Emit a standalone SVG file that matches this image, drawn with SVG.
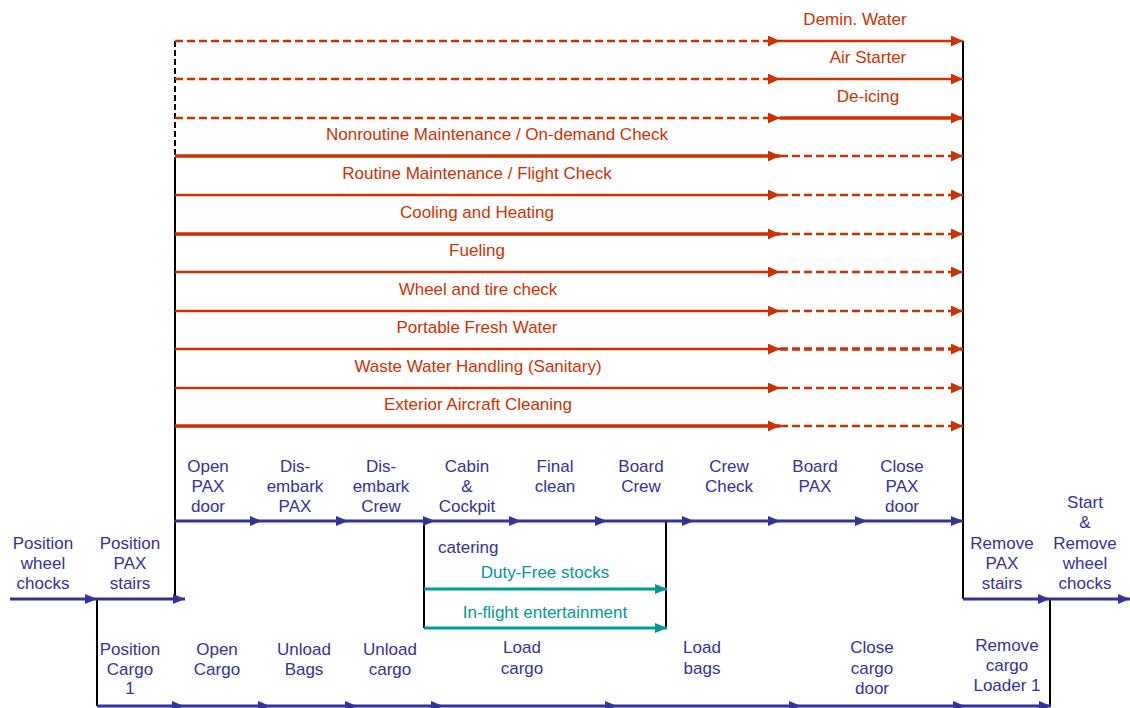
<svg xmlns="http://www.w3.org/2000/svg" width="1130" height="708" viewBox="0 0 1130 708">
<defs>
<style>
text{font-family:"Liberation Sans",Arial,sans-serif;font-size:17px;text-anchor:middle}
.o{fill:#CC3300}
.b{fill:#333399}
.t{fill:#009999}
.lo{stroke:#CC3300;stroke-width:2.6;fill:none}
.lo.th{stroke-width:3.6}
.dash{stroke-dasharray:8 4}
.lb{stroke:#333399;stroke-width:3;fill:none}
.lt{stroke:#009999;stroke-width:3;fill:none}
.bk{stroke:#000;stroke-width:2;fill:none}
.mo{marker-end:url(#ao)}
.mb{marker-end:url(#ab)}
.mt{marker-end:url(#at)}
</style>
<marker id="ao" markerUnits="userSpaceOnUse" markerWidth="12" markerHeight="11" refX="12" refY="5.5" orient="auto"><path d="M0,0 L12,5.5 L0,11 z" fill="#CC3300"/></marker>
<marker id="ab" markerUnits="userSpaceOnUse" markerWidth="12" markerHeight="10" refX="12" refY="5" orient="auto"><path d="M0,0 L12,5 L0,10 z" fill="#333399"/></marker>
<marker id="at" markerUnits="userSpaceOnUse" markerWidth="12" markerHeight="10" refX="12" refY="5" orient="auto"><path d="M0,0 L12,5 L0,10 z" fill="#009999"/></marker>
</defs>
<rect width="1130" height="708" fill="#fff"/>

<g id="connectors">
<!-- black frame lines -->
<path class="bk" d="M175,41 V157" stroke-dasharray="6 3"/>
<path class="bk" d="M175,157 V599"/>
<path class="bk" d="M963,41 V599"/>
<path class="bk" d="M97,599 V706" stroke-width="1.6"/>
<path class="bk" d="M1050,599 V706" stroke-width="1.6"/>
<path class="bk" d="M424,521 V628" stroke-width="1.6"/>
<path class="bk" d="M666,521 V628"/>

<!-- orange service lines: dashed then solid -->
<path class="lo dash mo" d="M175,41 H780"/><path class="lo mo" d="M780,41 H963"/>
<path class="lo dash mo" d="M175,79 H780"/><path class="lo mo" d="M780,79 H963"/>
<path class="lo dash mo" d="M175,118 H780"/><path class="lo th mo" d="M780,118 H963"/>
<!-- solid then dashed -->
<path class="lo th mo" d="M175,156 H780"/><path class="lo dash mo" d="M780,156 H963"/>
<path class="lo mo" d="M175,195 H780"/><path class="lo dash mo" d="M780,195 H963"/>
<path class="lo th mo" d="M175,234 H780"/><path class="lo dash mo" d="M780,234 H963"/>
<path class="lo mo" d="M175,272 H780"/><path class="lo dash mo" d="M780,272 H963"/>
<path class="lo mo" d="M175,311 H780"/><path class="lo dash mo" d="M780,311 H963"/>
<path class="lo mo" d="M175,349 H780"/><path class="lo th dash mo" d="M780,349 H963"/>
<path class="lo mo" d="M175,388 H780"/><path class="lo dash mo" d="M780,388 H963"/>
<path class="lo th mo" d="M175,426 H780"/><path class="lo dash mo" d="M780,426 H963"/>

<!-- blue main PAX row -->
<path class="lb mb" d="M174,521 H262"/>
<path class="lb mb" d="M262,521 H348"/>
<path class="lb mb" d="M348,521 H435"/>
<path class="lb mb" d="M435,521 H521"/>
<path class="lb mb" d="M521,521 H607"/>
<path class="lb mb" d="M607,521 H694"/>
<path class="lb mb" d="M694,521 H780"/>
<path class="lb mb" d="M780,521 H867"/>
<path class="lb mb" d="M867,521 H963"/>

<!-- y=599 row -->
<path class="lb mb" d="M10,599 H97"/>
<path class="lb mb" d="M97,599 H185"/>
<path class="lb mb" d="M963,599 H1050"/>
<path class="lb mb" d="M1050,599 H1130"/>

<!-- bottom cargo row -->
<path class="lb mb" d="M97,706 H184"/>
<path class="lb mb" d="M184,706 H270"/>
<path class="lb mb" d="M270,706 H357"/>
<path class="lb mb" d="M357,706 H443"/>
<path class="lb mb" d="M443,706 H617"/>
<path class="lb mb" d="M617,706 H801"/>
<path class="lb mb" d="M801,706 H965"/>
<path class="lb mb" d="M965,706 H1051"/>

<!-- teal catering lines -->
<path class="lt mt" d="M424,589 H667"/>
<path class="lt mt" d="M424,628 H667"/>
</g>

<!-- orange service labels -->
<g id="demin-water"><text class="o" x="855" y="25">Demin. Water</text></g>
<g id="air-starter"><text class="o" x="868" y="63">Air Starter</text></g>
<g id="de-icing"><text class="o" x="868" y="102">De-icing</text></g>
<g id="nonroutine"><text class="o" x="497" y="140">Nonroutine Maintenance / On-demand Check</text></g>
<g id="routine"><text class="o" x="477" y="179">Routine Maintenance / Flight Check</text></g>
<g id="cooling"><text class="o" x="477" y="218">Cooling and Heating</text></g>
<g id="fueling"><text class="o" x="477" y="256">Fueling</text></g>
<g id="wheel-tire"><text class="o" x="478" y="295">Wheel and tire check</text></g>
<g id="fresh-water"><text class="o" x="477" y="333">Portable Fresh Water</text></g>
<g id="waste-water"><text class="o" x="478" y="372">Waste Water Handling (Sanitary)</text></g>
<g id="exterior-cleaning"><text class="o" x="478" y="410">Exterior Aircraft Cleaning</text></g>

<!-- PAX row labels -->
<g id="open-pax-door"><text class="b" x="208" y="472">Open</text><text class="b" x="208" y="492">PAX</text><text class="b" x="208" y="512">door</text></g>
<g id="disembark-pax"><text class="b" x="295" y="472">Dis-</text><text class="b" x="295" y="492">embark</text><text class="b" x="295" y="512">PAX</text></g>
<g id="disembark-crew"><text class="b" x="381" y="472">Dis-</text><text class="b" x="381" y="492">embark</text><text class="b" x="381" y="512">Crew</text></g>
<g id="cabin-cockpit"><text class="b" x="467" y="472">Cabin</text><text class="b" x="467" y="492">&amp;</text><text class="b" x="467" y="512">Cockpit</text></g>
<g id="final-clean"><text class="b" x="555" y="472">Final</text><text class="b" x="555" y="492">clean</text></g>
<g id="board-crew"><text class="b" x="641" y="472">Board</text><text class="b" x="641" y="492">Crew</text></g>
<g id="crew-check"><text class="b" x="729" y="472">Crew</text><text class="b" x="729" y="492">Check</text></g>
<g id="board-pax"><text class="b" x="815" y="472">Board</text><text class="b" x="815" y="492">PAX</text></g>
<g id="close-pax-door"><text class="b" x="902" y="472">Close</text><text class="b" x="902" y="492">PAX</text><text class="b" x="902" y="512">door</text></g>

<!-- catering -->
<g id="catering"><text class="b" x="438" y="553" style="text-anchor:start">catering</text></g>
<g id="duty-free"><text class="t" x="545" y="578">Duty-Free stocks</text></g>
<g id="inflight-ent"><text class="t" x="545" y="618">In-flight entertainment</text></g>

<!-- left / right -->
<g id="position-wheel-chocks"><text class="b" x="43" y="549">Position</text><text class="b" x="43" y="569">wheel</text><text class="b" x="43" y="589">chocks</text></g>
<g id="position-pax-stairs"><text class="b" x="130" y="549">Position</text><text class="b" x="130" y="569">PAX</text><text class="b" x="130" y="589">stairs</text></g>
<g id="remove-pax-stairs"><text class="b" x="1002" y="549">Remove</text><text class="b" x="1002" y="569">PAX</text><text class="b" x="1002" y="589">stairs</text></g>
<g id="start-remove-chocks"><text class="b" x="1085" y="508">Start</text><text class="b" x="1085" y="528">&amp;</text><text class="b" x="1085" y="549">Remove</text><text class="b" x="1085" y="569">wheel</text><text class="b" x="1085" y="589">chocks</text></g>

<!-- cargo row labels -->
<g id="position-cargo"><text class="b" x="130" y="655">Position</text><text class="b" x="130" y="675">Cargo</text><text class="b" x="130" y="694">1</text></g>
<g id="open-cargo"><text class="b" x="217" y="655">Open</text><text class="b" x="217" y="675">Cargo</text></g>
<g id="unload-bags"><text class="b" x="304" y="655">Unload</text><text class="b" x="304" y="675">Bags</text></g>
<g id="unload-cargo"><text class="b" x="390" y="655">Unload</text><text class="b" x="390" y="675">cargo</text></g>
<g id="load-cargo"><text class="b" x="522" y="653">Load</text><text class="b" x="522" y="674">cargo</text></g>
<g id="load-bags"><text class="b" x="702" y="653">Load</text><text class="b" x="702" y="674">bags</text></g>
<g id="close-cargo-door"><text class="b" x="872" y="653">Close</text><text class="b" x="872" y="674">cargo</text><text class="b" x="872" y="694">door</text></g>
<g id="remove-cargo-loader"><text class="b" x="1007" y="651">Remove</text><text class="b" x="1007" y="671">cargo</text><text class="b" x="1007" y="691">Loader 1</text></g>
</svg>
